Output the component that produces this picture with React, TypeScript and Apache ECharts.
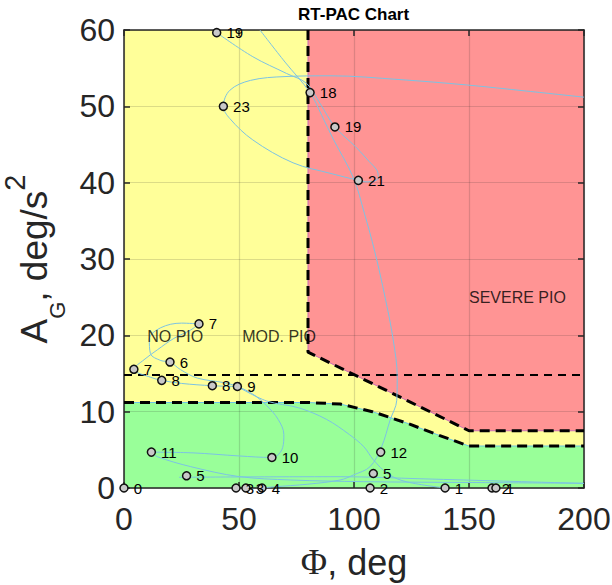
import React, { useEffect, useRef } from 'react';
import * as echarts from 'echarts';

// Axis ranges / ticks
const xTicks = [0, 50, 100, 150, 200];
const yTicks = [0, 10, 20, 30, 40, 50, 60];

// PIO region boundaries, [Φ deg, A_G deg/s²]
const plotTop = [[0, 60], [200, 60]];
const severeBoundary = [[80, 60], [80, 17.8], [150, 7.5], [200, 7.5]];
const noPioBoundary = [
  [0, 11.2], [80, 11.2], [94, 11.0], [101, 10.5], [108, 10.0],
  [123, 8.5], [137, 6.9], [150, 5.5], [200, 5.5],
];
const midLevel = [[0, 14.8], [200, 14.8]];

// Region captions [x, y, text]
const regionLabels = [
  [10.1, 19.8, 'NO PIO'],
  [51.4, 19.8, 'MOD. PIO'],
  [150, 25.0, 'SEVERE PIO'],
];

// Marked samples [Φ, A_G, tag]
const samples = [
  [0, 0, '0'], [48.7, 0, '3'], [53, 0, '3'], [60, 0, '4'],
  [107, 0, '2'], [139.6, 0, '1'], [160, 0, '2'], [161.7, 0, '1'],
  [27.2, 1.6, '5'], [108.4, 1.9, '5'], [111.6, 4.7, '12'],
  [64.3, 4.0, '10'], [11.9, 4.7, '11'], [49.3, 13.3, '9'],
  [38.4, 13.4, '8'], [16.4, 14.1, '8'], [4.3, 15.55, '7'],
  [20, 16.5, '6'], [32.6, 21.5, '7'], [43.2, 50.0, '23'],
  [40.3, 59.65, '19'], [80.9, 51.8, '18'], [91.7, 47.3, '19'],
  [101.9, 40.3, '21'],
];

// Pilot trajectory traces
const traceA = [
  [40.3, 59.65], [56, 56.5], [70.7, 54.3], [79.4, 53.0], [85.2, 50.4],
  [91.7, 47.3], [100.7, 44.7], [106.5, 42.8], [110, 41.6], [110.6, 40.6],
  [105.5, 40.1], [101.9, 40.3], [90, 41.2], [73.5, 42.6], [56, 45.6],
  [46, 48.4], [43.2, 50.0], [46, 52.1], [55, 53.4], [70, 53.9],
  [90, 54.0], [120, 53.5], [149, 52.8], [175, 52.0], [200, 51.2],
];
const traceB = [
  [59.1, 60], [70, 55.8], [80.9, 51.8], [86, 48.8], [91, 45.7],
  [99.8, 40.6], [104.5, 36], [109, 31], [113.5, 25], [117, 19.5],
  [118.8, 14.5], [118.6, 11.5], [115.7, 8.9], [112, 5.4], [107, 2.8],
  [99.7, 1.7], [94, 1.05], [80, 0.5], [65, 0.15], [60, 0],
];
const traceC = [
  [49.3, 13.3], [62, 11.4], [76, 10.5], [88, 9.0], [98, 7.0],
  [104.3, 5.4], [108.4, 3.7], [115, 1.8], [123, 0.8], [139.6, 0],
];
const traceD = [
  [32.6, 21.5], [25, 21.6], [16, 21], [11, 19.5], [11.5, 17.6],
  [16, 16.7], [20, 16.5], [24.6, 15.5], [31.9, 14.4], [43.5, 13.8],
  [49.3, 13.3], [56, 12.3], [62, 10.8], [67, 9], [69.5, 7],
  [69, 5.3], [66.5, 4.2], [64.3, 4.0], [50, 4.2], [30, 4.6],
  [11.9, 4.7], [14.5, 4.1], [29, 2.8], [50, 1.5], [72.5, 1.05],
  [104, 0.83], [150, 0.72], [200, 0.62],
];
const traceE = [
  [32.6, 21.5], [29, 20.7], [21.7, 19.6], [14.5, 18.1], [8.7, 16.8],
  [4.3, 15.55], [11.6, 14.5], [16.4, 14.1], [25, 13.7], [38.4, 13.4],
  [49.3, 13.3],
];
const traceF = [
  [23.9, 1.4], [50, 1.45], [94, 1.48], [130, 1.2], [165, 0.9], [200, 0.6],
];

const INK = '#262626';
const SANS = 'Liberation Sans';
const TRACE_COLOR = '#7cc3e3';

function buildOption() {
  const axisLine = { show: true, onZero: false, lineStyle: { color: INK, width: 1.5 } };
  const axisTick = { show: true, inside: true, length: 6, lineStyle: { color: INK, width: 1.5 } };
  const splitLine = { show: true, lineStyle: { color: 'rgba(38,38,38,0.16)', width: 1.2 } };

  const traceSeries = [traceA, traceB, traceC, traceD, traceE, traceF].map((t, i) => ({
    type: 'line',
    name: 'trace' + i,
    data: t,
    smooth: 0.35,
    symbol: 'none',
    silent: true,
    z: 5,
    lineStyle: { color: TRACE_COLOR, width: 1 },
  }));

  const dashed = (data: number[][], width: number, dash: number[]) => ({
    type: 'line',
    data,
    symbol: 'none',
    silent: true,
    z: 4,
    lineStyle: { color: '#000', width, type: dash },
  });

  return {
    animation: false,
    title: {
      text: 'RT-PAC Chart',
      left: 298,
      top: 6,
      padding: 0,
      textStyle: { fontFamily: SANS, fontSize: 17, fontWeight: 'bold', color: '#000' },
    },
    grid: {
      left: 124,
      top: 30,
      width: 460,
      height: 458,
      containLabel: false,
      outerBoundsMode: 'none',
    },
    xAxis: [
      {
        type: 'value',
        min: xTicks[0],
        max: xTicks[xTicks.length - 1],
        interval: xTicks[1] - xTicks[0],
        position: 'bottom',
        z: 3,
        axisLine,
        axisTick,
        splitLine,
        axisLabel: { fontSize: 32, color: INK, fontFamily: SANS, margin: 15 },
        name: '{p|Φ}{t|, deg}',
        nameLocation: 'middle',
        nameGap: 56,
        nameTextStyle: {
          color: INK,
          rich: {
            p: { fontFamily: 'Liberation Serif', fontSize: 36, color: INK },
            t: { fontFamily: SANS, fontSize: 36, color: INK },
          },
        },
      },
      {
        type: 'value',
        min: xTicks[0],
        max: xTicks[xTicks.length - 1],
        interval: xTicks[1] - xTicks[0],
        position: 'top',
        z: 3,
        axisLine,
        axisTick,
        splitLine: { show: false },
        axisLabel: { show: false },
      },
    ],
    yAxis: [
      {
        type: 'value',
        min: yTicks[0],
        max: yTicks[yTicks.length - 1],
        interval: yTicks[1] - yTicks[0],
        position: 'left',
        z: 3,
        axisLine,
        axisTick,
        splitLine,
        axisLabel: { fontSize: 32, color: INK, fontFamily: SANS, margin: 9 },
        name: '{a|A}{g|G}{a|, deg/s}{s|2}',
        nameLocation: 'middle',
        nameGap: 37,
        nameTextStyle: {
          color: INK,
          rich: {
            a: { fontFamily: SANS, fontSize: 37, color: INK, lineHeight: 68, verticalAlign: 'middle' },
            g: { fontFamily: SANS, fontSize: 22, color: INK, lineHeight: 22, verticalAlign: 'bottom' },
            s: { fontFamily: SANS, fontSize: 29, color: INK, lineHeight: 40, verticalAlign: 'top' },
          },
        },
      },
      {
        type: 'value',
        min: yTicks[0],
        max: yTicks[yTicks.length - 1],
        interval: yTicks[1] - yTicks[0],
        position: 'right',
        z: 3,
        axisLine,
        axisTick,
        splitLine: { show: false },
        axisLabel: { show: false },
      },
    ],
    series: [
      {
        type: 'line',
        data: plotTop,
        symbol: 'none',
        silent: true,
        z: 1,
        lineStyle: { width: 0 },
        areaStyle: { color: '#ffff99', opacity: 1, origin: 'start' },
      },
      {
        type: 'line',
        data: severeBoundary,
        symbol: 'none',
        silent: true,
        z: 2,
        lineStyle: { color: '#c86fb4', width: 1 },
        areaStyle: { color: '#ff9494', opacity: 1, origin: 'end' },
      },
      {
        type: 'line',
        data: noPioBoundary,
        symbol: 'none',
        silent: true,
        z: 2,
        lineStyle: { color: '#6cc3e6', width: 1 },
        areaStyle: { color: '#99ff99', opacity: 1, origin: 'start' },
      },
      dashed(severeBoundary, 3, [10, 6]),
      dashed(noPioBoundary, 3, [10, 6]),
      dashed(midLevel, 2, [8, 6]),
      ...traceSeries,
      {
        type: 'scatter',
        data: samples,
        symbol: 'circle',
        symbolSize: 8,
        z: 6,
        silent: true,
        itemStyle: { color: '#c9c9c9', borderColor: '#111', borderWidth: 1.5, opacity: 1 },
        label: {
          show: true,
          position: 'right',
          distance: 5,
          formatter: (p: any) => p.data[2],
          fontFamily: SANS,
          fontSize: 15,
          color: '#000',
        },
      },
      {
        type: 'scatter',
        data: regionLabels,
        symbolSize: 0,
        z: 7,
        silent: true,
        label: {
          show: true,
          position: 'right',
          distance: 0,
          formatter: (p: any) => p.data[2],
          fontFamily: SANS,
          fontSize: 16,
          color: '#000',
        },
      },
    ],
  };
}

export default function App() {
  const ref = useRef<HTMLDivElement>(null);
  useEffect(() => {
    if (!ref.current) return;
    const chart = echarts.init(ref.current, undefined, { renderer: 'svg' });
    chart.setOption(buildOption() as any);
    return () => chart.dispose();
  }, []);
  return (
    <div
      ref={ref}
      style={{ position: 'absolute', left: 0, top: 0, width: 612, height: 585, background: '#fff' }}
    />
  );
}
